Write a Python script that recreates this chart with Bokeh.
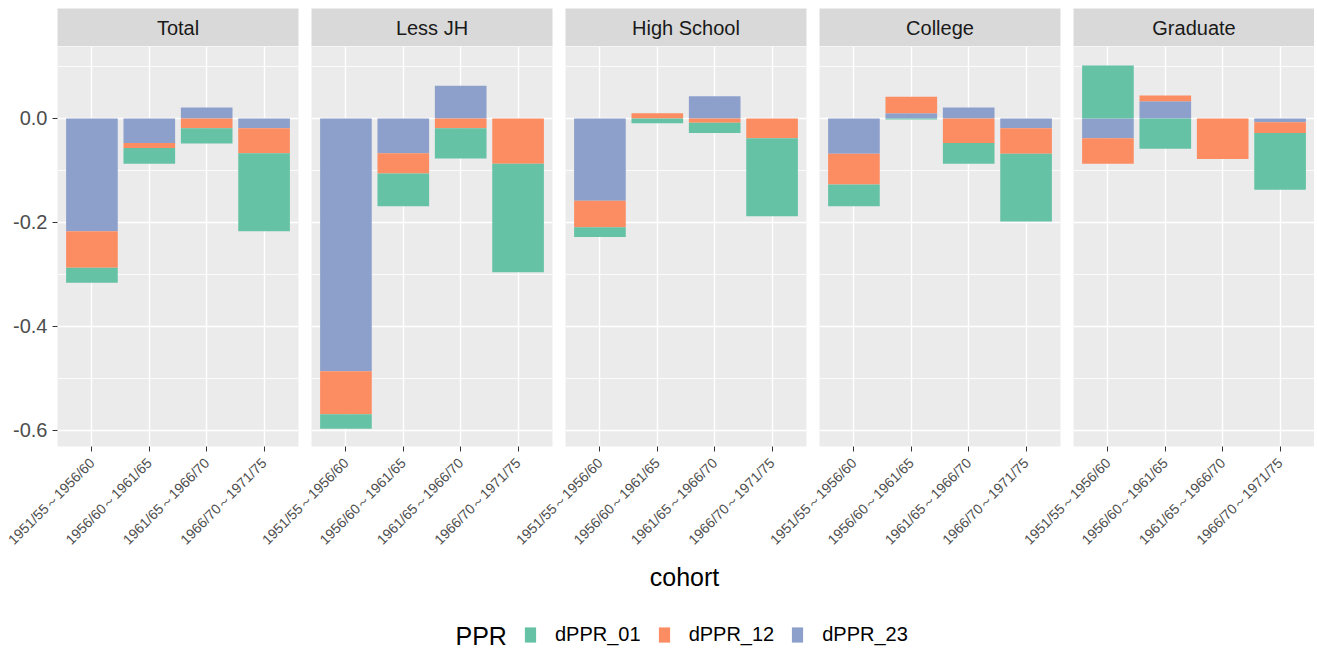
import math
from bokeh.plotting import figure
from bokeh.models import (ColumnDataSource, FactorRange, Range1d, SingleIntervalTicker,
                          PrintfTickFormatter, Label, Legend, LegendItem)
from bokeh.layouts import column, row
from bokeh.embed import file_html
from bokeh.resources import INLINE

# ---------------- data ----------------
facets = ["Total", "Less JH", "High School", "College", "Graduate"]
cohorts = ["1951/55～1956/60", "1956/60～1961/65", "1961/65～1966/70", "1966/70～1971/75"]
series = ["dPPR_01", "dPPR_12", "dPPR_23"]

dPPR_01 = {
    "Total":       [-0.029, -0.030, -0.029, -0.150],
    "Less JH":     [-0.028, -0.063, -0.058, -0.209],
    "High School": [-0.019, -0.009, -0.020, -0.150],
    "College":     [-0.042, -0.002, -0.040, -0.130],
    "Graduate":    [0.102, -0.058, 0.000, -0.109],
}
dPPR_12 = {
    "Total":       [-0.070, -0.010, -0.019, -0.048],
    "Less JH":     [-0.083, -0.039, -0.019, -0.087],
    "High School": [-0.051, 0.010, -0.008, -0.038],
    "College":     [-0.059, 0.032, -0.047, -0.049],
    "Graduate":    [-0.049, 0.011, -0.078, -0.021],
}
dPPR_23 = {
    "Total":       [-0.217, -0.047, 0.021, -0.019],
    "Less JH":     [-0.486, -0.067, 0.063, 0.000],
    "High School": [-0.158, 0.000, 0.043, 0.000],
    "College":     [-0.068, 0.010, 0.021, -0.019],
    "Graduate":    [-0.038, 0.033, 0.000, -0.007],
}
colors = {"dPPR_01": "#66C2A5", "dPPR_12": "#FC8D62", "dPPR_23": "#8DA0CB"}
values = {"dPPR_01": dPPR_01, "dPPR_12": dPPR_12, "dPPR_23": dPPR_23}

# ---------------- style ----------------
FONT = "Liberation Sans"
PANEL_BG = "#EBEBEB"
STRIP_BG = "#D9D9D9"
FRAME_W = 241
FRAME_H = 400
GAP_L, GAP_R = 6, 7
EXTRA = 70
FIRST_L = 57
TOP = 8
Y0, Y1 = -0.631, 0.1385
STRIP_H = 38
PANEL_BOTTOM = 112
BOTTOM_H = 650 - TOP - STRIP_H - FRAME_H - PANEL_BOTTOM

strips, panels = [], []
for i, fac in enumerate(facets):
    left = FIRST_L if i == 0 else GAP_L
    right = 0 if i == len(facets) - 1 else GAP_R

    # strip
    s = figure(frame_width=FRAME_W, frame_height=STRIP_H, x_range=Range1d(0, 1), y_range=Range1d(0, 1),
               x_axis_location=None, y_axis_location=None, toolbar_location=None,
               output_backend="svg", min_border_left=left, min_border_right=right,
               min_border_top=TOP, min_border_bottom=0)
    s.background_fill_color = STRIP_BG
    s.border_fill_color = "white"
    s.outline_line_color = None
    s.grid.visible = False
    s.add_layout(Label(x=0.5, y=0.5, text=fac, text_align="center", text_baseline="middle",
                       text_font=FONT, text_font_size="20px", text_color="#1A1A1A"))
    strips.append(s)

    # panel
    extra = 0 if i == 0 else EXTRA
    p = figure(frame_width=FRAME_W, frame_height=FRAME_H,
               x_range=FactorRange(factors=cohorts, range_padding=0.1, range_padding_units="absolute"),
               y_range=Range1d(Y0, Y1), toolbar_location=None, output_backend="svg",
               min_border_left=left + extra, min_border_right=right, min_border_top=0,
               min_border_bottom=PANEL_BOTTOM, margin=(0, 0, 0, -extra))
    p.background_fill_color = PANEL_BG
    p.border_fill_color = None
    p.outline_line_color = None

    # stacked segments: from zero outward 23, 12, 01 (pos/neg stacked separately)
    xs, tops, bottoms, cols = [], [], [], []
    for j, c in enumerate(cohorts):
        pos, neg = 0.0, 0.0
        for ser in ["dPPR_23", "dPPR_12", "dPPR_01"]:
            v = values[ser][fac][j]
            if v == 0:
                continue
            if v > 0:
                b, t = pos, pos + v
                pos = t
            else:
                b, t = neg, neg + v
                neg = t
            xs.append(c); tops.append(t); bottoms.append(b); cols.append(colors[ser])
    src = ColumnDataSource(dict(x=xs, top=tops, bottom=bottoms, color=cols))
    p.vbar(x="x", top="top", bottom="bottom", width=0.9, fill_color="color", line_color=None, source=src)

    ticker = SingleIntervalTicker(interval=0.2, num_minor_ticks=2)
    p.yaxis.ticker = ticker
    p.ygrid.ticker = ticker
    p.ygrid.grid_line_color = "white"
    p.ygrid.grid_line_width = 1.4
    p.ygrid.minor_grid_line_color = "white"
    p.ygrid.minor_grid_line_width = 0.8
    p.xgrid.grid_line_color = "white"
    p.xgrid.grid_line_width = 1.4

    p.yaxis.formatter = PrintfTickFormatter(format="%.1f")
    p.yaxis.axis_line_color = None
    p.yaxis.major_tick_line_color = "#333333"
    p.yaxis.major_tick_out = 5
    p.yaxis.major_tick_in = 0
    p.yaxis.minor_tick_line_color = None
    p.yaxis.major_label_text_font = FONT
    p.yaxis.major_label_text_font_size = "20px"
    p.yaxis.major_label_text_color = "#4D4D4D"
    p.yaxis.major_label_standoff = 5
    if i > 0:
        p.yaxis.visible = False

    p.xaxis.axis_line_color = None
    p.xaxis.major_tick_line_color = "#333333"
    p.xaxis.major_tick_out = 5
    p.xaxis.major_tick_in = 0
    p.xaxis.minor_tick_line_color = None
    p.xaxis.major_label_orientation = math.pi / 4
    p.xaxis.major_label_text_font = FONT
    p.xaxis.major_label_text_font_size = "14px"
    p.xaxis.major_label_text_color = "#4D4D4D"
    p.xaxis.major_label_standoff = 9
    panels.append(p)

TOTAL_W = FIRST_L + 5 * FRAME_W + 4 * (GAP_L + GAP_R)
bottom = figure(frame_width=TOTAL_W, frame_height=BOTTOM_H, x_range=Range1d(0, TOTAL_W),
                y_range=Range1d(0, BOTTOM_H), x_axis_location=None, y_axis_location=None,
                toolbar_location=None, output_backend="svg", min_border=0)
bottom.outline_line_color = None
bottom.grid.visible = False
bottom.background_fill_color = "white"

bottom.add_layout(Label(x=684, y=BOTTOM_H - 18, text="cohort", text_align="center", text_baseline="middle",
                        text_font=FONT, text_font_size="25px", text_color="black"))
bottom.add_layout(Label(x=455, y=15, text="PPR", text_align="left", text_baseline="middle",
                        text_font=FONT, text_font_size="25px", text_color="black"))
items = []
for ser in series:
    # legend-key renderer, kept outside the visible range
    r = bottom.vbar(x=[-50], top=[-50], bottom=[-60], width=1, fill_color=colors[ser], line_color=None)
    items.append(LegendItem(label=ser, renderers=[r]))
legend = Legend(items=items, orientation="horizontal", location=(523, 4),
                border_line_color=None, background_fill_alpha=0, padding=0, margin=0,
                spacing=16, label_standoff=18, glyph_width=14, glyph_height=19,
                label_text_font=FONT, label_text_font_size="20px", label_text_color="black")
bottom.add_layout(legend)

layout = column(row(*strips), row(*panels), bottom)
open("out.html", "w").write(file_html(layout, INLINE))
